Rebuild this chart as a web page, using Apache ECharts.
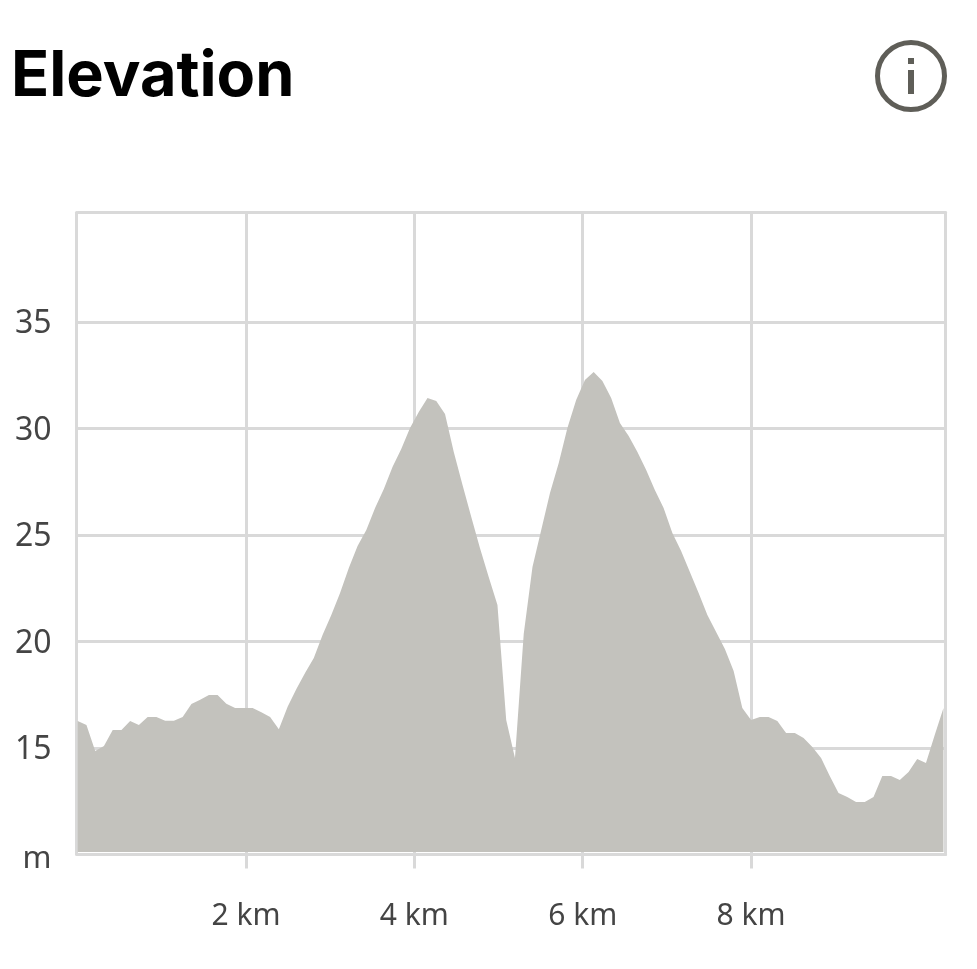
<!DOCTYPE html>
<html>
<head>
<meta charset="utf-8">
<style>html,body{margin:0;padding:0;background:#fff}#c{width:977px;height:969px}</style>
<script src="https://cdn.jsdelivr.net/npm/echarts@6/dist/echarts.min.js"></script>
</head>
<body>
<div id="c"></div>
<script>
const chartTitle = 'Elevation';
const distanceKm = [0,.104,.208,.312,.416,.52,.623,.727,.831,.935,1.039,1.143,1.247,1.351,1.455,1.559,1.662,1.766,1.87,1.974,2.078,2.182,2.286,2.39,2.494,2.598,2.701,2.805,2.909,3.013,3.117,3.221,3.325,3.429,3.533,3.637,3.74,3.844,3.948,4.052,4.156,4.26,4.364,4.468,4.572,4.676,4.779,4.883,4.987,5.091,5.195,5.299,5.403,5.507,5.611,5.715,5.818,5.922,6.026,6.13,6.234,6.338,6.442,6.546,6.65,6.754,6.857,6.961,7.065,7.169,7.273,7.377,7.481,7.585,7.689,7.793,7.896,8,8.104,8.208,8.312,8.416,8.52,8.624,8.728,8.832,8.935,9.039,9.143,9.247,9.351,9.455,9.559,9.663,9.767,9.871,9.974,10.078,10.182,10.286];
const elevationM = [16.27,16.08,14.86,15.09,15.85,15.85,16.27,16.08,16.46,16.46,16.28,16.28,16.46,17.07,17.27,17.49,17.49,17.08,16.88,16.88,16.88,16.68,16.46,15.88,16.94,17.77,18.52,19.23,20.3,21.24,22.28,23.45,24.48,25.23,26.27,27.16,28.19,29.04,30.02,30.77,31.43,31.29,30.68,28.9,27.35,25.85,24.39,23.03,21.71,16.31,14.53,20.35,23.5,25.23,26.97,28.38,30.02,31.34,32.28,32.65,32.23,31.43,30.26,29.65,28.9,28.05,27.11,26.27,25.09,24.25,23.26,22.28,21.24,20.45,19.65,18.62,16.88,16.31,16.46,16.46,16.27,15.7,15.7,15.47,15.05,14.53,13.69,12.89,12.7,12.46,12.46,12.7,13.69,13.69,13.5,13.87,14.48,14.3,15.61,16.88];
const xTicks = [2,4,6,8];
const yTicks = [10,15,20,25,30,35];
const yUnitLabel = 'm';

const GRID = '#d9d9d9', TEXT = '#444444', FILL = '#c3c2bd', ICON = '#5f5e58';
const FONT = '"Noto Sans", sans-serif';
const gridLine = {lineStyle:{color:GRID,width:3}};

const chart = echarts.init(document.getElementById('c'), null, {renderer:'canvas'});
chart.setOption({
  animation:false,
  backgroundColor:'#fff',
  title:{text:chartTitle,left:6,top:41,textStyle:{fontFamily:'Inter, sans-serif',fontWeight:700,fontSize:63,color:'#000'}},
  grid:{left:77.7,top:212.5,width:867.8,height:642},
  xAxis:[{
    type:'value',min:0,max:10.31,
    axisLine:{show:true,onZero:false,...gridLine},
    axisTick:{show:true,length:14,customValues:xTicks,...gridLine},
    splitLine:{show:true,...gridLine},
    axisLabel:{customValues:xTicks,margin:47,color:TEXT,fontFamily:FONT,fontSize:30,formatter:v=>v+' km'}
  },{
    type:'value',position:'top',min:0,max:10.31,
    axisLine:{show:true,onZero:false,...gridLine},
    axisTick:{show:false},splitLine:{show:false},axisLabel:{show:false}
  }],
  yAxis:[{
    type:'value',min:10,max:40.14,offset:1.2,
    axisLine:{show:true,onZero:false,...gridLine},
    axisTick:{show:false,customValues:yTicks},
    splitLine:{show:true,...gridLine},
    axisLabel:{customValues:yTicks,margin:25,color:TEXT,fontFamily:FONT,fontSize:32,padding:[4,0,0,0],
      formatter:v=>v===yTicks[0]?'{u|'+yUnitLabel+'}':String(v),
      rich:{u:{color:TEXT,fontFamily:FONT,fontSize:31,padding:[6,0,0,0]}}}
  },{
    type:'value',position:'right',min:10,max:40.14,
    axisLine:{show:true,onZero:false,...gridLine},
    axisTick:{show:false},splitLine:{show:false},axisLabel:{show:false}
  }],
  series:[{
    type:'line',
    data:distanceKm.map((d,i)=>[d,elevationM[i]]),
    symbol:'none',smooth:false,
    lineStyle:{width:0},
    areaStyle:{color:FILL,opacity:1,origin:10.12},
    z:5
  }],
  graphic:[
    {type:'circle',shape:{cx:911,cy:76,r:33.5},style:{fill:'none',stroke:ICON,lineWidth:5}},
    {type:'rect',shape:{x:908,y:58,width:6,height:6},style:{fill:ICON}},
    {type:'rect',shape:{x:908,y:70,width:6,height:24},style:{fill:ICON}}
  ]
});
</script>
</body>
</html>
